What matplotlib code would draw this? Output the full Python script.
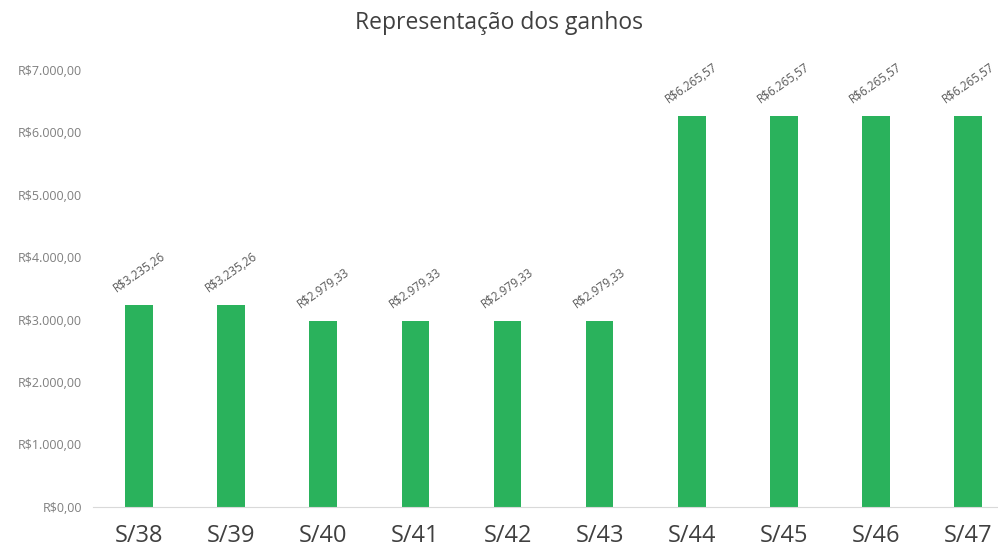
import numpy as np
import matplotlib.pyplot as plt

plt.rcParams['font.family'] = ['Open Sans', 'DejaVu Sans']

semanas = ['S/38', 'S/39', 'S/40', 'S/41', 'S/42', 'S/43', 'S/44', 'S/45', 'S/46', 'S/47']
ganhos = [3235.26, 3235.26, 2979.33, 2979.33, 2979.33, 2979.33, 6265.57, 6265.57, 6265.57, 6265.57]
yticks = [0, 1000, 2000, 3000, 4000, 5000, 6000, 7000]


def brl(v):
    s = '{:,.2f}'.format(v)
    s = s.replace(',', 'X').replace('.', ',').replace('X', '.')
    return 'R$' + s


fig = plt.figure(figsize=(9.98, 5.51), dpi=100)
ax = fig.add_axes([0.0932, 0.080, 0.923, 0.793])

x = np.arange(len(semanas))
ax.bar(x, ganhos, width=0.3, color='#2AB25C', zorder=2)

for xi, v in zip(x, ganhos):
    ax.text(xi, v + 530, brl(v), rotation=35, ha='center', va='center',
            fontsize=8.5, color='#595959', rotation_mode='anchor')

ax.set_xlim(-0.5, len(semanas) - 0.5)
ax.set_ylim(0, 7000)
ax.set_xticks(x)
ax.set_xticklabels(semanas, fontsize=17, color='#404040')
ax.set_yticks(yticks)
ax.set_yticklabels([brl(t) for t in yticks], fontsize=9, color='#7f7f7f')
ax.tick_params(length=0)
ax.tick_params(axis='x', pad=12)
ax.tick_params(axis='y', pad=8)

for s in ['top', 'right', 'left']:
    ax.spines[s].set_visible(False)
ax.spines['bottom'].set_color('#d9d9d9')

fig.text(0.5, 0.958, 'Representação dos ganhos', ha='center', va='center',
         fontsize=16.5, color='#404040')

plt.savefig('out.png', dpi=100)
